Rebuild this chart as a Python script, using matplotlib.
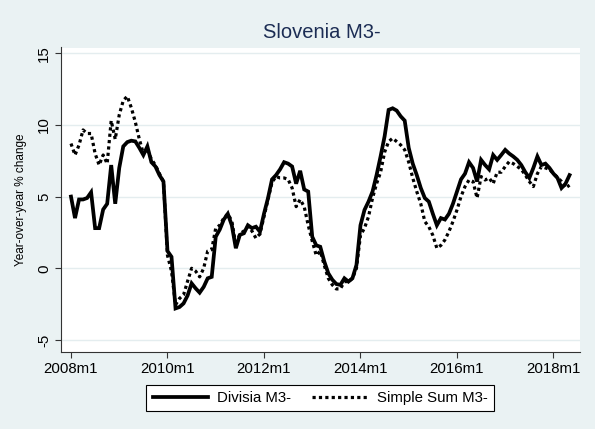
import matplotlib
matplotlib.use("Agg")
import matplotlib.pyplot as plt

# monthly data, 2008m1 .. 2018m5
start_year = 2008
divisia = [5.0, 3.5, 4.8, 4.8, 4.9, 5.3, 2.8, 2.8, 4.1, 4.5, 7.2, 4.5,
           7.0, 8.5, 8.8, 8.9, 8.85, 8.4, 7.9, 8.5, 7.4, 7.1, 6.5, 6.05,
           1.2, 0.8, -2.8, -2.7, -2.45, -1.9, -1.05, -1.4, -1.7, -1.3, -0.7, -0.6,
           2.2, 2.7, 3.4, 3.8, 3.0, 1.4, 2.33, 2.44, 3.0, 2.8, 2.9, 2.55,
           3.8, 4.9, 6.2, 6.5, 6.9, 7.4, 7.3, 7.1, 5.9, 6.8, 5.5, 5.35,
           2.2, 1.6, 1.5, 0.47, -0.35, -0.8, -1.1, -1.16, -0.7, -0.93, -0.7, 0.23,
           3.0, 4.07, 4.65, 5.35, 6.5, 7.8, 9.2, 11.05, 11.16, 11.0, 10.6, 10.3,
           8.4, 7.3, 6.5, 5.6, 4.9, 4.65, 3.8, 3.0, 3.5, 3.4, 3.8, 4.5,
           5.35, 6.2, 6.6, 7.4, 7.0, 6.05, 7.56, 7.2, 6.9, 7.9, 7.56, 7.9,
           8.26, 8.0, 7.8, 7.56, 7.2, 6.7, 6.3, 7.0, 7.8, 7.2, 7.3, 7.0,
           6.6, 6.3, 5.6, 5.9, 6.5]
simple_sum = [8.7, 7.9, 8.6, 9.65, 9.4, 9.4, 8.0, 7.2, 7.9, 7.3, 10.3, 9.0,
              10.7, 11.7, 12.0, 11.2, 10.2, 9.0, 8.0, 8.3, 7.6, 7.2, 6.6, 6.05,
              0.9, -0.2, -2.55, -2.1, -1.85, -0.9, 0.0, -0.2, -0.6, 0.0, 1.2, 1.3,
              2.8, 3.0, 3.5, 3.8, 3.3, 1.6, 2.4, 2.6, 2.9, 2.6, 2.1, 2.4,
              3.6, 4.8, 6.0, 6.4, 6.3, 6.3, 6.2, 5.6, 4.3, 4.8, 4.3, 3.0,
              1.9, 0.9, 1.2, 0.2, -0.7, -1.16, -1.44, -1.44, -0.93, -0.93, -0.7, 0.0,
              2.3, 2.8, 3.6, 4.9, 5.9, 6.7, 8.1, 8.84, 9.07, 8.84, 8.6, 8.26,
              7.4, 6.3, 5.35, 4.5, 3.26, 2.9, 2.3, 1.4, 1.6, 1.98, 2.56, 3.26,
              4.07, 5.0, 5.7, 6.16, 6.05, 4.9, 6.4, 6.16, 6.3, 5.9, 6.7, 6.7,
              7.1, 7.44, 7.3, 7.1, 6.9, 6.5, 6.05, 5.7, 6.6, 7.1, 7.0, 6.9,
              6.6, 6.35, 6.05, 5.6, 5.8, 6.4]
simple_sum = simple_sum[:len(divisia)]
months = list(range(len(divisia)))
xtick_pos = [0, 24, 48, 72, 96, 120]
xtick_labels = ["2008m1", "2010m1", "2012m1", "2014m1", "2016m1", "2018m1"]
ytick_pos = [-5, 0, 5, 10, 15]
ytick_labels = ["-5", "0", "5", "10", "15"]

BG = "#eaf2f3"
FONT = ["Liberation Sans", "DejaVu Sans"]
plt.rcParams["font.family"] = FONT

W, H = 595, 429
fig = plt.figure(figsize=(W / 100, H / 100), dpi=100, facecolor=BG)
left, right, top, bottom = 60.7, 580, 47.5, 352
ax = fig.add_axes([left / W, 1 - bottom / H, (right - left) / W, (bottom - top) / H])
ax.set_facecolor("white")

ax.plot(months, divisia, color="black", lw=2.7, solid_joinstyle="miter", label="Divisia M3-", zorder=3)
ax.plot(months, simple_sum, color="black", lw=2.3, linestyle=(0, (1, 1)), label="Simple Sum M3-", zorder=2)

ax.set_xlim(-2.56, 126.6)
ax.set_ylim(-5.84, 15.4)
ax.set_xticks(xtick_pos)
ax.set_xticklabels(xtick_labels, fontsize=10.8)
ax.set_yticks(ytick_pos)
ax.set_yticklabels(ytick_labels, fontsize=10.8, rotation=90, va="center")
ax.yaxis.grid(True, color="#e4edef", lw=1.0)
ax.set_axisbelow(True)
for s in ["top", "right"]:
    ax.spines[s].set_visible(False)
for s in ["left", "bottom"]:
    ax.spines[s].set_color("#333333")
    ax.spines[s].set_linewidth(0.8)
ax.tick_params(axis="both", direction="out", length=4, width=0.8, color="#333333", pad=3)
ax.set_ylabel("Year-over-year % change", fontsize=8.5, labelpad=7)

fig.text((262 + 381) / 2 / W, 1 - 33 / H, "Slovenia M3-", fontsize=14.5,
         color="#1c2d54", ha="center", va="center")

leg = fig.legend(loc="center", bbox_to_anchor=(320 / W, 1 - 398 / H), ncol=2,
                 fontsize=10.8, frameon=True, fancybox=False, edgecolor="black",
                 facecolor="white", handlelength=3.7, handletextpad=0.6,
                 columnspacing=1.4, borderpad=0.42, framealpha=1)
leg.get_frame().set_linewidth(0.8)

fig.savefig("out.png", dpi=100, facecolor=BG)
